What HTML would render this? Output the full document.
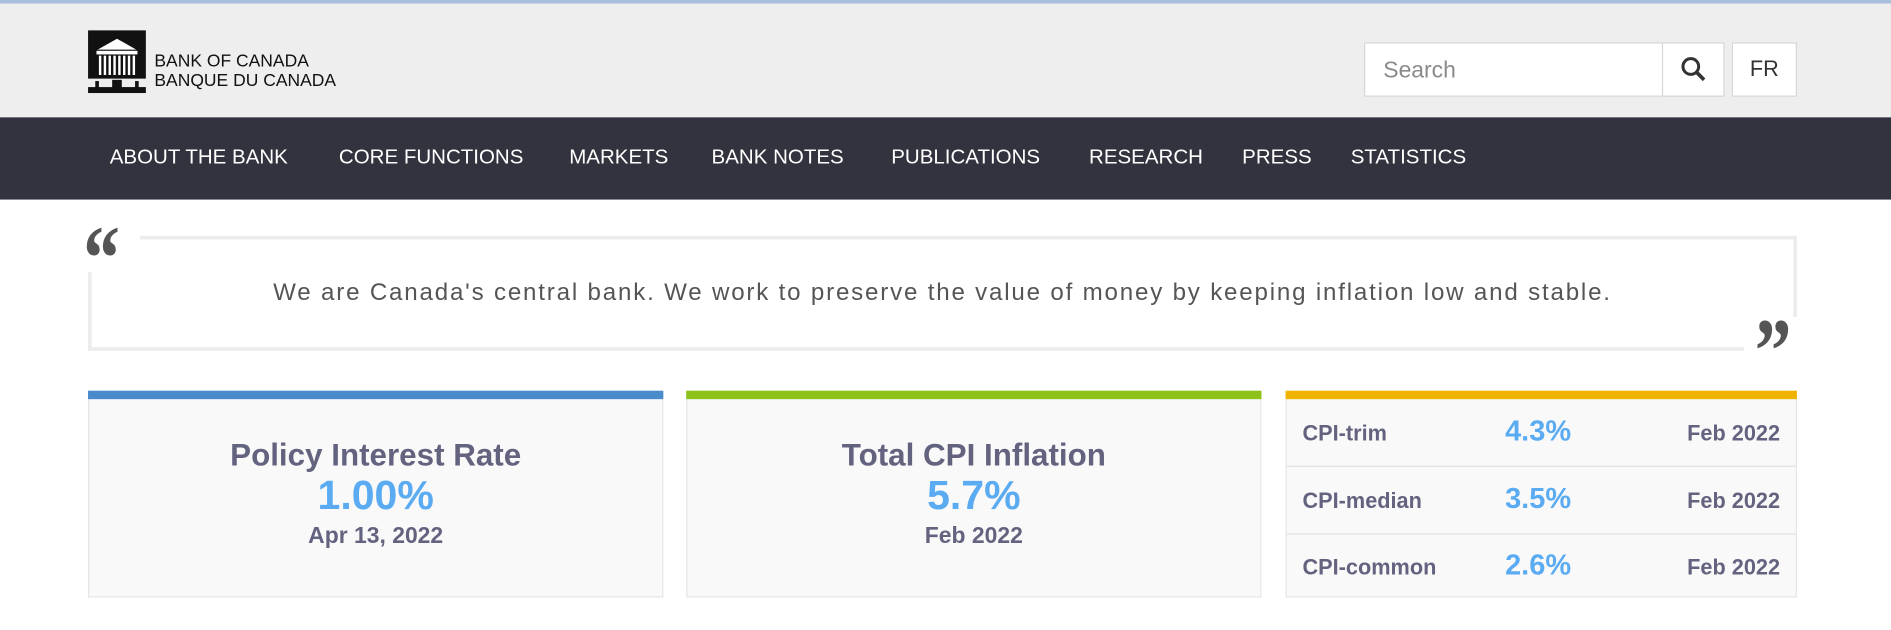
<!DOCTYPE html>
<html><head><meta charset="utf-8"><style>
html,body{margin:0;padding:0;width:1891px;height:629px;overflow:hidden;background:#fff;font-family:"Liberation Sans",sans-serif}
#wrap{position:absolute;left:0;top:0;width:1568px;height:521px;transform:scale(1.206,1.2096);transform-origin:0 0}
.abs{position:absolute}
.nav a{position:absolute;top:120px;color:#fff;font-size:17px;text-decoration:none;white-space:nowrap}
.card{position:absolute;top:323px;height:171px;background:#f9f9f9;border:1px solid #e6e6e6;border-top:none;box-sizing:border-box}
.bar{position:absolute;left:-1px;right:-1px;top:0;height:7px}
.t{position:absolute;left:0;right:0;text-align:center;color:#636380;font-weight:bold}
.v{color:#5aabf2}
.row{position:absolute;left:0;right:0;height:55px;border-bottom:1px solid #e2e2e2}
.row span{position:absolute;top:18px;font-weight:bold}
</style></head><body>
<div id="wrap">
<div class="abs" style="left:0;top:0;width:1568px;height:3px;background:#a9bfe0"></div>
<div class="abs" style="left:0;top:3px;width:1568px;height:94px;background:#eeeeee">
 <div class="abs" style="left:73px;top:22px;width:48px;height:52px">
  <svg width="48" height="52" viewBox="0 0 48 52"><rect x="0" y="0" width="48" height="40" fill="#111"/><path d="M8 16 L24 7 L40 16 Z" fill="#fff"/><rect x="7" y="17" width="34" height="3" fill="#fff"/><g fill="#fff"><rect x="9" y="21" width="2" height="16"/><rect x="13" y="21" width="2" height="16"/><rect x="17" y="21" width="2" height="16"/><rect x="21" y="21" width="2" height="16"/><rect x="25" y="21" width="2" height="16"/><rect x="29" y="21" width="2" height="16"/><rect x="33" y="21" width="2" height="16"/><rect x="37" y="21" width="2" height="16"/></g><rect x="0" y="47" width="48" height="5" fill="#111"/><rect x="6" y="42" width="3" height="6" fill="#111"/><rect x="20" y="41" width="8" height="7" fill="#111"/><rect x="39" y="42" width="3" height="6" fill="#111"/></svg>
 </div>
 <div class="abs" style="left:128px;top:40px;font-size:14.5px;line-height:16px;color:#111">BANK OF CANADA<br>BANQUE DU CANADA</div>
 <div class="abs" style="left:1131px;top:32px;width:298px;height:45px;background:#fff;border:1px solid #d6d6d6;box-sizing:border-box">
  <span class="abs" style="left:15px;top:12px;font-size:19px;color:#8a8a8a">Search</span>
 </div>
 <div class="abs" style="left:1378px;top:32px;width:52px;height:45px;border:1px solid #d6d6d6;background:#fff;box-sizing:border-box">
  <svg width="50" height="43"><circle cx="23" cy="19" r="6.5" stroke="#333" stroke-width="2.5" fill="none"/><line x1="28" y1="24" x2="34" y2="30" stroke="#333" stroke-width="3"/></svg>
 </div>
 <div class="abs" style="left:1436px;top:32px;width:54px;height:45px;border:1px solid #d6d6d6;background:#fff;box-sizing:border-box;text-align:center;line-height:43px;font-size:18px;color:#333">FR</div>
</div>
<div class="abs nav" style="left:0;top:97px;width:1568px;height:68px;background:#33333f">
 <a style="left:91px;top:23px">ABOUT THE BANK</a>
 <a style="left:281px;top:23px">CORE FUNCTIONS</a>
 <a style="left:472px;top:23px">MARKETS</a>
 <a style="left:590px;top:23px">BANK NOTES</a>
 <a style="left:739px;top:23px">PUBLICATIONS</a>
 <a style="left:903px;top:23px">RESEARCH</a>
 <a style="left:1030px;top:23px">PRESS</a>
 <a style="left:1120px;top:23px">STATISTICS</a>
</div>
<div class="abs" style="left:73px;top:195px;width:1417px;height:95px;border:3px solid #ececec;box-sizing:border-box"></div>
<div class="abs" style="left:66px;top:185px;width:50px;height:40px;background:#fff"></div>
<div class="abs" style="left:69px;top:176px;font-family:'Liberation Serif',serif;font-weight:bold;font-size:76px;color:#555;line-height:76px;transform:scaleX(0.8);transform-origin:0 0">&#8220;</div>
<div class="abs" style="left:1446px;top:262px;width:50px;height:36px;background:#fff"></div>
<div class="abs" style="left:1455px;top:253px;font-family:'Liberation Serif',serif;font-weight:bold;font-size:76px;color:#555;line-height:76px;transform:scaleX(0.8);transform-origin:0 0">&#8221;</div>
<div class="abs" style="left:73px;top:231px;width:1417px;text-align:center;font-size:20px;letter-spacing:1.5px;color:#555">We are Canada's central bank. We work to preserve the value of money by keeping inflation low and stable.</div>

<div class="card" style="left:73px;width:477px">
 <div class="bar" style="background:#4a8bcc"></div>
 <div class="t" style="top:38px;font-size:26px">Policy Interest Rate</div>
 <div class="t v" style="top:68px;font-size:34px">1.00%</div>
 <div class="t" style="top:110px;font-size:19px">Apr 13, 2022</div>
</div>
<div class="card" style="left:569px;width:477px">
 <div class="bar" style="background:#8cc21a"></div>
 <div class="t" style="top:38px;font-size:26px">Total CPI Inflation</div>
 <div class="t v" style="top:68px;font-size:34px">5.7%</div>
 <div class="t" style="top:110px;font-size:19px">Feb 2022</div>
</div>
<div class="card" style="left:1066px;width:424px">
 <div class="bar" style="background:#f0b400"></div>
 <div class="row" style="top:7px"><span style="left:13px;color:#636380;font-size:18px">CPI-trim</span><span style="left:181px;top:13px;color:#5aabf2;font-size:24px">4.3%</span><span style="right:13px;color:#636380;font-size:18px">Feb 2022</span></div>
 <div class="row" style="top:63px"><span style="left:13px;color:#636380;font-size:18px">CPI-median</span><span style="left:181px;top:13px;color:#5aabf2;font-size:24px">3.5%</span><span style="right:13px;color:#636380;font-size:18px">Feb 2022</span></div>
 <div class="row" style="top:118px;border-bottom:none"><span style="left:13px;color:#636380;font-size:18px">CPI-common</span><span style="left:181px;top:13px;color:#5aabf2;font-size:24px">2.6%</span><span style="right:13px;color:#636380;font-size:18px">Feb 2022</span></div>
</div>
</div>
</body></html>
